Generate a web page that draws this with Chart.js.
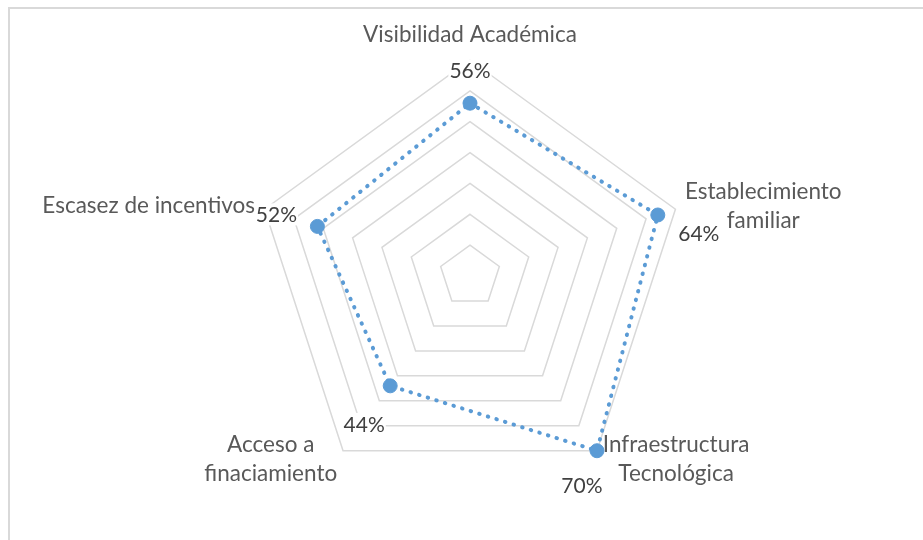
<!DOCTYPE html>
<html>
<head>
<meta charset="utf-8">
<script src="https://cdn.jsdelivr.net/npm/chart.js@4.4.1/dist/chart.umd.min.js"></script>
<style>
  html, body { margin: 0; padding: 0; background: #fff; }
  #wrap { position: relative; width: 923px; height: 540px; overflow: hidden; }
  #frame { position: absolute; left: 8px; top: 7px; width: 1000px; height: 700px;
           border-top: 2px solid #d9d9d9; border-left: 2px solid #d9d9d9; }
  #box { position: absolute; left: 0; top: 0; width: 923px; height: 540px; }
</style>
</head>
<body>
<div id="wrap">
  <div id="frame"></div>
  <div id="box"><canvas id="myChart"></canvas></div>
</div>
<script>
const categories = [
  'Visibilidad Académica',
  ['Establecimiento', 'familiar'],
  ['Infraestructura', 'Tecnológica'],
  ['Acceso a', 'finaciamiento'],
  'Escasez de incentivos'
]
const values = [56, 64, 70, 44, 52]
const scaleMax = 70
const scaleStep = 10

const BLUE = '#5B9BD5'
const CAT_FONT = '22.5px Lato'
const VAL_FONT = '21px Lato'

// where each value label sits relative to its marker (as in the original)
const valueLabelOffsets = [[0, -33], [41, 18], [-15, 34], [-26, 38], [-41, -12]]

function formatPct(v) {
  return v + '%'
}

const radarText = {
  id: 'radarText',
  beforeDatasetsDraw(chart) {
    const scale = chart.scales.r
    const ctx = chart.ctx
    ctx.save()
    ctx.font = CAT_FONT
    ctx.fillStyle = '#595959'
    ctx.textAlign = 'center'
    ctx.textBaseline = 'middle'
    const lh = 29
    categories.forEach((lab, i) => {
      const lines = Array.isArray(lab) ? lab : [lab]
      let p = scale.getPointPosition(i, scale.drawingArea + 10)
      if (Math.abs(p.x - scale.xCenter) < 2) {
        // top label: sits above the axis end
        p = scale.getPointPosition(i, scale.drawingArea + 13)
        lines.forEach((t, k) => {
          ctx.fillText(t, p.x, p.y - 12 - (lines.length - 1 - k) * lh)
        })
        return
      }
      const w = Math.max(...lines.map(t => ctx.measureText(t).width))
      const cx = p.x > scale.xCenter ? p.x + w / 2 : p.x - w / 2
      lines.forEach((t, k) => {
        ctx.fillText(t, cx, p.y + (k - (lines.length - 1) / 2) * lh)
      })
    })
    ctx.restore()
  },
  afterDatasetsDraw(chart) {
    const ctx = chart.ctx
    const meta = chart.getDatasetMeta(0)
    ctx.save()
    ctx.font = VAL_FONT
    ctx.textAlign = 'center'
    ctx.textBaseline = 'middle'
    meta.data.forEach((pt, i) => {
      const [dx, dy] = valueLabelOffsets[i]
      const txt = formatPct(values[i])
      const w = ctx.measureText(txt).width
      const x = pt.x + dx
      const y = pt.y + dy
      ctx.fillStyle = '#fff'
      ctx.fillRect(x - w / 2 - 1, y - 11, w + 2, 22)
      ctx.fillStyle = '#404040'
      ctx.fillText(txt, x, y + 1)
    })
    ctx.restore()
  }
}

const ctx = document.getElementById('myChart')
new Chart(ctx, {
  type: 'radar',
  data: {
    labels: categories,
    datasets: [{
      label: 'Serie 1',
      data: values,
      fill: false,
      borderColor: BLUE,
      borderWidth: 4,
      borderDash: [0.5, 8.5],
      borderCapStyle: 'round',
      tension: 0,
      pointRadius: 7,
      pointBorderWidth: 1,
      pointBackgroundColor: BLUE,
      pointBorderColor: BLUE
    }]
  },
  options: {
    responsive: true,
    maintainAspectRatio: false,
    animation: false,
    layout: {
      padding: { top: 60, bottom: 48, left: 24, right: 7 }
    },
    plugins: {
      legend: { display: false },
      tooltip: { enabled: false }
    },
    scales: {
      r: {
        min: 0,
        max: scaleMax,
        ticks: { display: false, stepSize: scaleStep },
        grid: { color: '#d9d9d9', lineWidth: 1.5 },
        angleLines: { display: false },
        pointLabels: { display: false }
      }
    }
  },
  plugins: [radarText]
})
</script>
</body>
</html>
